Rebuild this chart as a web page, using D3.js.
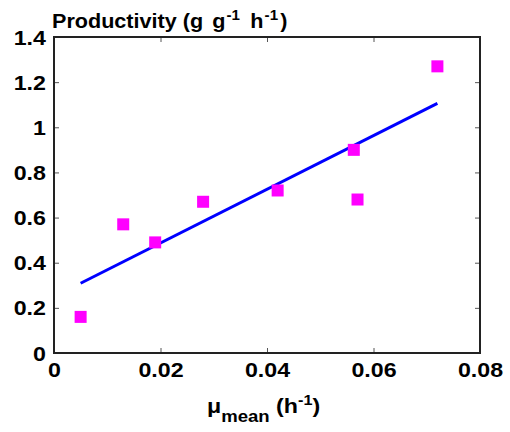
<!DOCTYPE html>
<html>
<head>
<meta charset="utf-8">
<script src="https://cdn.jsdelivr.net/npm/d3@7"></script>
<style>
  body { margin: 0; background: #fff; }
  text { font-family: "Liberation Sans", Arial, sans-serif; font-weight: bold; fill: #000; }
</style>
</head>
<body>
<div id="chart"></div>
<script>
const WIDTH = 510, HEIGHT = 432;

// Measured growth rate vs productivity, plus the fitted line end points.
const muMean = [0.005, 0.013, 0.019, 0.028, 0.042, 0.0563, 0.057, 0.072];
const productivity = [0.16, 0.57, 0.49, 0.67, 0.72, 0.90, 0.68, 1.27];
const fitX = [0.005, 0.072];
const fitY = [0.309, 1.106];
const xTicks = [0, 0.02, 0.04, 0.06, 0.08];
const yTicks = [0, 0.2, 0.4, 0.6, 0.8, 1, 1.2, 1.4];

const margin = { top: 37, right: 30, bottom: 79, left: 54 };
const plotW = WIDTH - margin.left - margin.right;
const plotH = HEIGHT - margin.top - margin.bottom;
const STRETCH = "scale(1.16,1)";   // the original text is drawn a bit wide

const svg = d3.select("#chart")
    .append("svg")
    .attr("width", WIDTH)
    .attr("height", HEIGHT);

const g = svg.append("g")
    .attr("transform", `translate(${margin.left},${margin.top})`);

const x = d3.scaleLinear().domain([0, 0.08]).range([0, plotW]);
const y = d3.scaleLinear().domain([0, 1.4]).range([plotH, 0]);

// Inward ticks on all four sides, MATLAB style box.
const styleAxis = sel => {
    sel.select(".domain").remove();
    sel.selectAll(".tick line").attr("stroke", "#555").attr("stroke-width", 1);
    sel.selectAll("text").style("font-size", "20px").attr("transform", STRETCH);
};

g.append("g")
    .attr("transform", `translate(0,${plotH})`)
    .call(d3.axisBottom(x).tickValues(xTicks).tickSize(-5)
        .tickFormat(d => d === 0 ? "0" : d3.format(".2f")(d)))
    .call(styleAxis)
    .selectAll("text").attr("y", 24).attr("dy", 0);

g.append("g")
    .call(d3.axisTop(x).tickValues(xTicks).tickSize(-5).tickFormat(""))
    .call(styleAxis);

g.append("g")
    .call(d3.axisLeft(y).tickValues(yTicks).tickSize(-5)
        .tickFormat(d => d3.format("~g")(d)))
    .call(styleAxis)
    .selectAll("text").attr("x", -7).attr("dy", 7);

g.append("g")
    .attr("transform", `translate(${plotW},0)`)
    .call(d3.axisRight(y).tickValues(yTicks).tickSize(-5).tickFormat(""))
    .call(styleAxis);

g.append("rect")
    .attr("width", plotW)
    .attr("height", plotH)
    .attr("fill", "none")
    .attr("stroke", "#222")
    .attr("stroke-width", 2);

// Fitted regression line.
g.append("line")
    .attr("x1", x(fitX[0])).attr("y1", y(fitY[0]))
    .attr("x2", x(fitX[1])).attr("y2", y(fitY[1]))
    .attr("stroke", "#0000ff")
    .attr("stroke-width", 3);

const size = 12;
g.selectAll("rect.pt")
    .data(muMean)
    .join("rect")
    .attr("class", "pt")
    .attr("x", d => x(d) - size / 2)
    .attr("y", (d, i) => y(productivity[i]) - size / 2)
    .attr("width", size)
    .attr("height", size)
    .attr("fill", "#ff00ff");

// Title and x label with super/subscripts.
const title = svg.append("text")
    .attr("transform", "translate(52,28) scale(1.08,1)")
    .style("font-size", "20px");
title.append("tspan").text("Productivity (g");
title.append("tspan").attr("dx", 3).text(" g");
title.append("tspan").attr("dx", 1).attr("dy", -8).style("font-size", "14px").text("-1");
title.append("tspan").attr("dx", 4).attr("dy", 8).text(" h");
title.append("tspan").attr("dx", 1).attr("dy", -8).style("font-size", "14px").text("-1");
title.append("tspan").attr("dx", 2).attr("dy", 8).text(")");

const xLabel = svg.append("text")
    .attr("transform", `translate(207,413) ${STRETCH}`)
    .style("font-size", "20px");
xLabel.append("tspan").text("μ");
xLabel.append("tspan").attr("dy", 9).style("font-size", "16px").text("mean");
xLabel.append("tspan").attr("dy", -9).text(" (h");
xLabel.append("tspan").attr("dy", -8).style("font-size", "14px").text("-1");
xLabel.append("tspan").attr("dy", 8).text(")");
</script>
</body>
</html>
